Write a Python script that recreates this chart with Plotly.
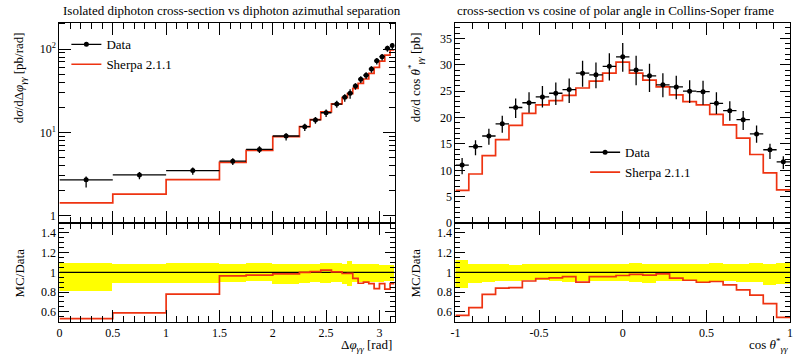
import numpy as np
import plotly.graph_objects as go

# ---------------- data: left panel (delta phi) ----------------
dphi_edges = [0.0, 0.5, 1.0, 1.5, 1.75, 2.0, 2.25, 2.35, 2.45, 2.55, 2.65, 2.7, 2.75,
              2.8, 2.85, 2.9, 2.95, 3.0, 3.05, 3.1, 3.14159]
dphi_data = [2.70, 3.09, 3.48, 4.52, 6.25, 9.05, 11.7, 14.1, 17.2, 21.9, 26.5, 29.5,
             36.0, 43.5, 48.5, 57.6, 72.3, 81.0, 102.0, 110.0]
dphi_rel_up = [0.093, 0.083, 0.093, 0.083, 0.093, 0.083, 0.083, 0.083, 0.093, 0.093,
               0.083, 0.117, 0.083, 0.083, 0.083, 0.083, 0.083, 0.077, 0.077, 0.077]
dphi_rel_dn = [0.193, 0.110, 0.107, 0.100, 0.093, 0.117, 0.110, 0.100, 0.110, 0.100,
               0.117, 0.140, 0.100, 0.100, 0.100, 0.100, 0.100, 0.100, 0.093, 0.093]
dphi_mc = [1.43, 1.82, 2.71, 4.36, 6.08, 8.91, 11.7, 14.2, 17.6, 22.0, 26.2, 29.2,
           33.8, 38.7, 43.7, 51.0, 60.4, 71.7, 84.7, 97.4]

# ---------------- data: right panel (cos theta*) ----------------
cos_edges = [-1.0, -0.92, -0.84, -0.76, -0.68, -0.6, -0.52, -0.44, -0.36, -0.28, -0.2,
             -0.12, -0.04, 0.04, 0.12, 0.2, 0.28, 0.36, 0.44, 0.52, 0.6, 0.68, 0.76,
             0.84, 0.92, 1.0]
cos_data = [11.0, 14.5, 16.5, 18.8, 21.9, 22.8, 23.9, 24.6, 25.3, 28.4, 28.1, 29.7,
            31.5, 29.0, 27.9, 26.2, 25.8, 25.0, 24.9, 22.7, 21.3, 19.6, 16.9, 13.9, 11.6]
cos_rel_up = [0.123, 0.083, 0.083, 0.083, 0.077, 0.087, 0.087, 0.083, 0.083, 0.083,
              0.083, 0.083, 0.083, 0.093, 0.083, 0.083, 0.083, 0.083, 0.083, 0.093,
              0.083, 0.083, 0.093, 0.083, 0.093]
cos_rel_dn = [0.157, 0.113, 0.100, 0.090, 0.090, 0.083, 0.083, 0.090, 0.100, 0.090,
              0.090, 0.090, 0.090, 0.100, 0.110, 0.090, 0.090, 0.090, 0.100, 0.090,
              0.090, 0.100, 0.100, 0.127, 0.117]
cos_mc = [6.2, 9.3, 12.8, 15.8, 18.5, 20.8, 22.4, 23.2, 24.2, 25.6, 26.9, 28.4, 30.5,
          28.4, 27.1, 25.8, 24.3, 23.0, 22.4, 20.6, 18.6, 16.1, 13.0, 9.5, 6.3]

left_title = "Isolated diphoton cross-section vs diphoton azimuthal separation"
right_title = "cross-section vs cosine of polar angle in Collins-Soper frame"

FONT = "Liberation Serif"
RED = "#EE3311"
YELLOW = "#FFFF00"

W, H = 796, 361


def px(x):
    return x / W


def py(y):
    return 1 - y / H


fig = go.Figure()


def add_panel(edges, data, rel_up, rel_dn, mc, xa_main, ya_main, xa_rat, ya_rat, legend):
    e = np.array(edges, float)
    d = np.array(data, float)
    m = np.array(mc, float)
    up = np.array(rel_up, float)
    dn = np.array(rel_dn, float)
    centers = 0.5 * (e[1:] + e[:-1])
    half = 0.5 * (e[1:] - e[:-1])
    # ratio band
    fig.add_trace(go.Bar(x=centers, y=up + dn, base=1 - dn, width=2 * half,
                         marker=dict(color=YELLOW, line=dict(width=0)),
                         xaxis=xa_rat, yaxis=ya_rat, showlegend=False, hoverinfo="skip"))
    fig.add_trace(go.Scatter(x=[e[0], e[-1]], y=[1, 1], mode="lines",
                             line=dict(color="black", width=1.2),
                             xaxis=xa_rat, yaxis=ya_rat, showlegend=False))
    r = m / d
    fig.add_trace(go.Scatter(x=e, y=np.append(r, r[-1]), mode="lines", line_shape="hv",
                             line=dict(color=RED, width=1.7),
                             xaxis=xa_rat, yaxis=ya_rat, showlegend=False))
    # main: MC histogram
    fig.add_trace(go.Scatter(x=e, y=np.append(m, m[-1]), mode="lines", line_shape="hv",
                             line=dict(color=RED, width=1.7),
                             xaxis=xa_main, yaxis=ya_main, showlegend=False))
    # main: data
    fig.add_trace(go.Scatter(x=centers, y=d, mode="markers",
                             marker=dict(color="black", size=5),
                             error_x=dict(type="data", array=half, color="black",
                                          thickness=1.3, width=0),
                             error_y=dict(type="data", array=d * up, arrayminus=d * dn,
                                          color="black", thickness=1.3, width=0),
                             xaxis=xa_main, yaxis=ya_main, showlegend=False))
    # legend entries
    fig.add_trace(go.Scatter(x=[None], y=[None], mode="lines+markers", name="Data",
                             line=dict(color="black", width=1.3),
                             marker=dict(color="black", size=5),
                             xaxis=xa_main, yaxis=ya_main, legend=legend))
    fig.add_trace(go.Scatter(x=[None], y=[None], mode="lines", name="Sherpa 2.1.1",
                             line=dict(color=RED, width=1.7),
                             xaxis=xa_main, yaxis=ya_main, legend=legend))


add_panel(dphi_edges, dphi_data, dphi_rel_up, dphi_rel_dn, dphi_mc, "x", "y", "x2", "y2", "legend")
add_panel(cos_edges, cos_data, cos_rel_up, cos_rel_dn, cos_mc, "x3", "y3", "x4", "y4", "legend2")

ax_common = dict(showline=True, linecolor="black", linewidth=1, mirror="allticks",
                 ticks="inside", tickcolor="black", showgrid=False, zeroline=False,
                 tickfont=dict(family=FONT, size=12, color="black"))

L0, L1 = px(55), px(393.5)
R0, R1 = px(455), px(793)
M0, M1 = py(227.5), py(23)
Q0, Q1 = py(328), py(227.5)

fig.update_layout(
    width=W, height=H, margin=dict(l=0, r=0, t=0, b=0),
    plot_bgcolor="white", paper_bgcolor="white", barmode="overlay", bargap=0,
    font=dict(family=FONT, size=13, color="black"),
    xaxis=dict(domain=[L0, L1], range=[0, 3.14159], anchor="y", showticklabels=False,
               tickvals=[0.5, 1, 1.5, 2, 2.5, 3], ticklen=12,
               minor=dict(dtick=0.1, tick0=0, ticklen=6, ticks="inside", tickcolor="black"),
               **ax_common),
    yaxis=dict(domain=[M0, M1], type="log", range=[-0.088, 2.318], anchor="x",
               tickvals=[1, 10, 100], ticktext=["1", "10<sup>1</sup>", "10<sup>2</sup>"],
               ticklen=12,
               minor=dict(tickvals=[2, 3, 4, 5, 6, 7, 8, 9, 20, 30, 40, 50, 60, 70, 80, 90, 200],
                          ticklen=6, ticks="inside", tickcolor="black"),
               **ax_common),
    xaxis2=dict(domain=[L0, L1], range=[0, 3.14159], anchor="y2",
                tickvals=[0, 0.5, 1, 1.5, 2, 2.5, 3], ticktext=["0", "0.5", "1", "1.5", "2", "2.5", "3"],
                ticklen=12,
                minor=dict(dtick=0.1, tick0=0, ticklen=6, ticks="inside", tickcolor="black"),
                **ax_common),
    yaxis2=dict(domain=[Q0, Q1], range=[0.5, 1.5], anchor="x2",
                tickvals=[0.6, 0.8, 1, 1.2, 1.4], ticktext=["0.6", "0.8", "1", "1.2", "1.4"],
                ticklen=10,
                minor=dict(dtick=0.05, tick0=0, ticklen=5, ticks="inside", tickcolor="black"),
                **ax_common),
    xaxis3=dict(domain=[R0, R1], range=[-1, 1], anchor="y3", showticklabels=False,
                tickvals=[-1, -0.5, 0, 0.5, 1], ticklen=12,
                minor=dict(dtick=0.1, tick0=0, ticklen=6, ticks="inside", tickcolor="black"),
                **ax_common),
    yaxis3=dict(domain=[M0, M1], range=[0, 38], anchor="x3",
                tickvals=[0, 5, 10, 15, 20, 25, 30, 35], ticklen=10,
                minor=dict(dtick=1, tick0=0, ticklen=5, ticks="inside", tickcolor="black"),
                **ax_common),
    xaxis4=dict(domain=[R0, R1], range=[-1, 1], anchor="y4",
                tickvals=[-1, -0.5, 0, 0.5, 1], ticktext=["-1", "-0.5", "0", "0.5", "1"],
                ticklen=12,
                minor=dict(dtick=0.1, tick0=0, ticklen=6, ticks="inside", tickcolor="black"),
                **ax_common),
    yaxis4=dict(domain=[Q0, Q1], range=[0.5, 1.5], anchor="x4",
                tickvals=[0.6, 0.8, 1, 1.2, 1.4], ticktext=["0.6", "0.8", "1", "1.2", "1.4"],
                ticklen=10,
                minor=dict(dtick=0.05, tick0=0, ticklen=5, ticks="inside", tickcolor="black"),
                **ax_common),
    legend=dict(x=px(62), y=py(30), xanchor="left", yanchor="top", bgcolor="rgba(0,0,0,0)",
                font=dict(family=FONT, size=13), tracegroupgap=0, itemwidth=30),
    legend2=dict(x=px(586), y=py(140), xanchor="left", yanchor="top", bgcolor="rgba(0,0,0,0)",
                 font=dict(family=FONT, size=13), tracegroupgap=0, itemwidth=30),
)

annots = [
    dict(text=left_title, x=px(57), y=py(11), xanchor="left", yanchor="middle", font=dict(size=13)),
    dict(text=right_title, x=px(455), y=py(11), xanchor="left", yanchor="middle", font=dict(size=13)),
    dict(text="d<i>σ</i>/dΔ<i>φ</i><sub><i>γγ</i></sub> [pb/rad]", x=px(15), y=py(79),
         textangle=-90, xanchor="center", yanchor="middle", font=dict(size=13)),
    dict(text="MC/Data", x=px(15), y=py(278), textangle=-90, xanchor="center", yanchor="middle",
         font=dict(size=13)),
    dict(text="d<i>σ</i>/d cos <i>θ</i><sup>*</sup><sub><i>γγ</i></sub> [pb]", x=px(415), y=py(79),
         textangle=-90, xanchor="center", yanchor="middle", font=dict(size=13)),
    dict(text="MC/Data", x=px(415), y=py(278), textangle=-90, xanchor="center", yanchor="middle",
         font=dict(size=13)),
    dict(text="Δ<i>φ</i><sub><i>γγ</i></sub> [rad]", x=px(393), y=py(363), xanchor="right",
         yanchor="bottom", font=dict(size=13)),
    dict(text="cos <i>θ</i><sup>*</sup><sub><i>γγ</i></sub>", x=px(793), y=py(363), xanchor="right",
         yanchor="bottom", font=dict(size=13)),
]
for a in annots:
    a.update(xref="paper", yref="paper", showarrow=False)
    a["font"].update(family=FONT, color="black")
fig.update_layout(annotations=annots)

fig.write_html("out.html")
